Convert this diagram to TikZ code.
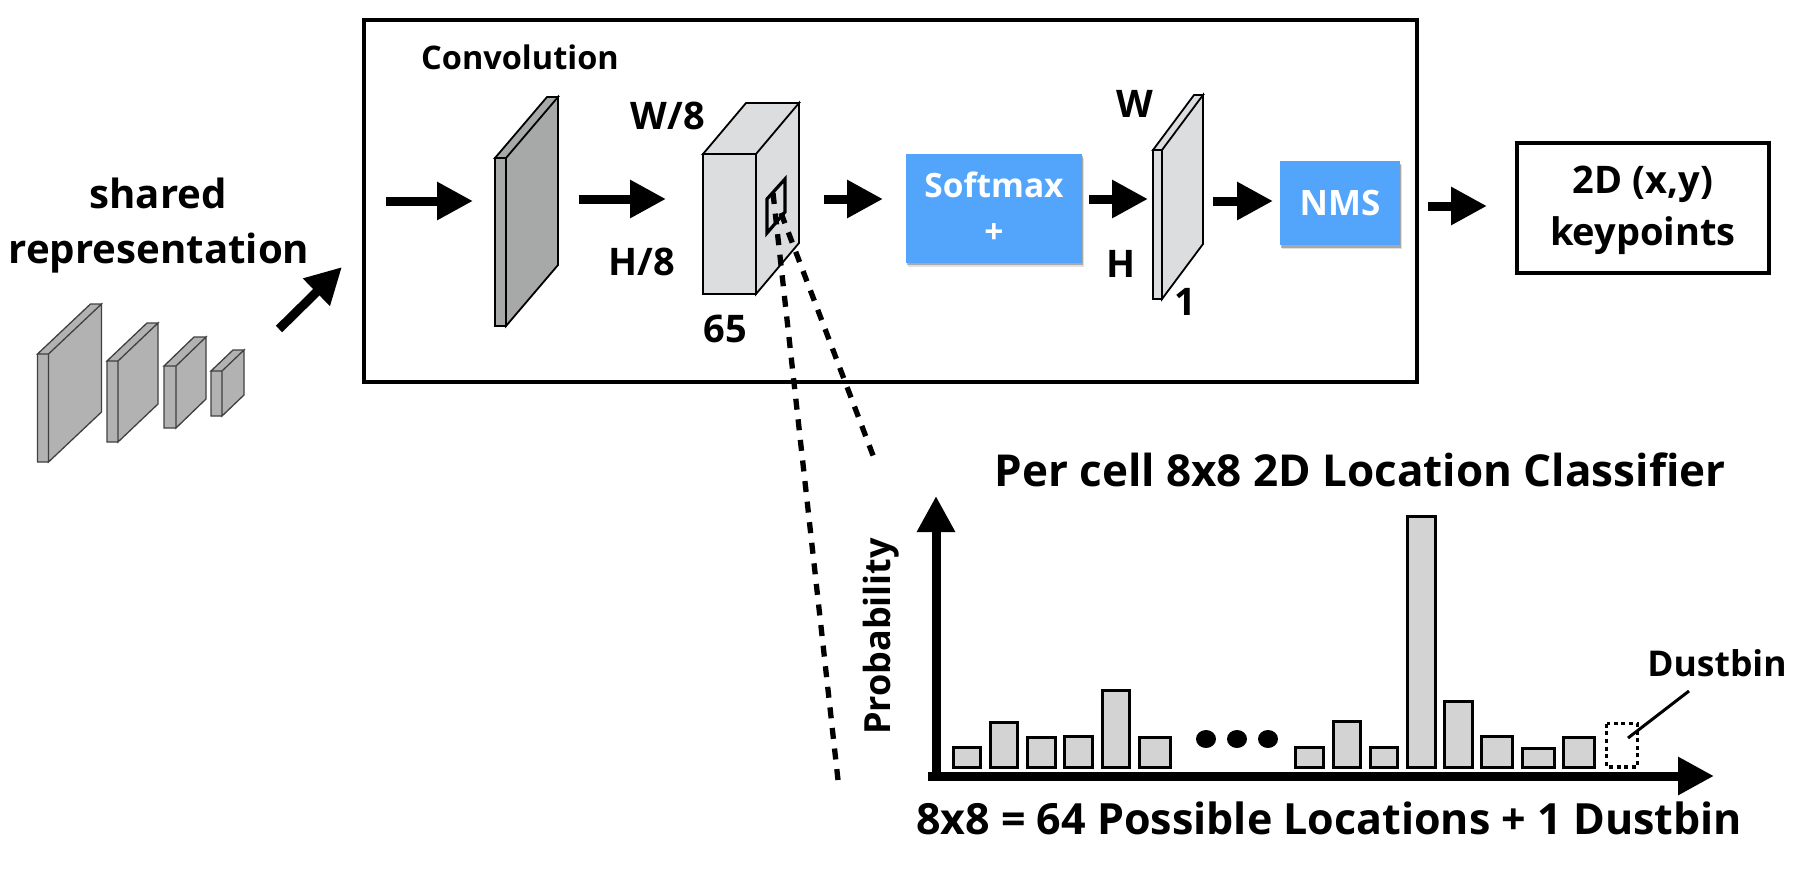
\documentclass[tikz,border=0pt]{standalone}
\usepackage{fontspec}
\setmainfont{Open Sans}
\usetikzlibrary{arrows.meta,shadows,shapes.geometric}
\definecolor{slabdark}{HTML}{A6A9A7}
\definecolor{slabgrey}{HTML}{B2B2B2}
\definecolor{slablight}{HTML}{DCDDDF}
\definecolor{barfill}{HTML}{D3D3D3}
\definecolor{softblue}{HTML}{53A5FB}
\newcommand{\fs}[2]{\bfseries\fontsize{#1}{#2}\selectfont}
% x0 x1 ytop ybot dx dy fill linewidth draw
\newcommand{\slabshape}[9]{%
  \draw[line width=#8pt,draw=#9,fill=#7,line join=miter]
    (#1,#3) rectangle (#2,#4)
    (#2,#3) -- (#2+#5,#3-#6) -- (#2+#5,#4-#6) -- (#2,#4) -- cycle
    (#1,#3) -- (#1+#5,#3-#6) -- (#2+#5,#3-#6) -- (#2,#3) -- cycle;}
\tikzset{
  x=1pt,y=-1pt,
  fatarrow/.style={line width=9pt,-{Triangle[length=36pt,width=36pt]}},
  frame/.style={draw=black,line width=3.2pt,inner sep=0pt},
  bluebox/.style={fill=softblue,text=white,inner sep=0pt,align=center,
    drop shadow={shadow xshift=2pt,shadow yshift=-4pt,opacity=.12,fill=black},
    drop shadow={shadow xshift=1pt,shadow yshift=-2.5pt,opacity=.25,fill=black}},
  lab/.style={inner sep=0pt,anchor=base,text=black},
  cuedash/.style={line width=5.3pt,dash pattern=on 11pt off 9.7pt},
  barshape/.style={draw=black,line width=3.3pt,fill=barfill},
}
\begin{document}
\begin{tikzpicture}
\useasboundingbox (0,0) rectangle (1794,884);
% frames
\node[frame,minimum width=1053pt,minimum height=362pt] (conv) at (890.5,201) {};
\node[frame,minimum width=252pt,minimum height=130pt] (kp) at (1643,208) {};
\node[lab,font=\fs{38}{44}] (kp1) at (1643,193) {2D (x,y)};
\node[lab,font=\fs{38}{44}] (kp2) at (1643,245) {keypoints};
% left stack
\slabshape{37.5}{48.5}{354}{462}{53}{50}{slabgrey}{1.3}{black!75}
\slabshape{107}{118}{361}{442}{40}{38}{slabgrey}{1.3}{black!75}
\slabshape{164}{176}{366}{428}{30}{29}{slabgrey}{1.3}{black!75}
\slabshape{211}{222}{371}{416}{22}{21}{slabgrey}{1.3}{black!75}
% conv slab, cuboid, output slab
\slabshape{495}{506}{158}{326}{52}{61}{slabdark}{1.8}{black}
\slabshape{703}{756}{154}{294}{43}{51}{slablight}{1.8}{black}
\slabshape{1153}{1162}{150}{299}{41}{55}{slablight}{1.8}{black}
% blue boxes
\node[bluebox,minimum width=176pt,minimum height=109pt,font=\fs{33.5}{46}] (soft) at (994,208) {Softmax\\+};
\node[bluebox,minimum width=120pt,minimum height=84pt,font=\fs{35}{40}] (nms) at (1340,203) {NMS};
% text
\node[lab,font=\fs{40.2}{55}] (shared) at (158,208) {shared};
\node[lab,font=\fs{40.2}{55}] (repr) at (159,263) {representation};
\node[lab,font=\fs{32.5}{36}] (convt) at (520,69) {Convolution};
\node[lab,font=\fs{38}{40}] (w8) at (668,129) {W/8};
\node[lab,font=\fs{38}{40}] (h8) at (642,275) {H/8};
\node[lab,font=\fs{38}{40}] (n65) at (725,342) {65};
\node[lab,font=\fs{38}{40}] (wl) at (1135,117) {W};
\node[lab,font=\fs{38}{40}] (hl) at (1121,277) {H};
\node[lab,font=\fs{38}{40}] (onel) at (1185,315) {1};
\node[lab,font=\fs{44}{44}] (title) at (1360,486) {Per cell 8x8 2D Location Classifier};
\node[lab,font=\fs{43}{44}] (xlab) at (1329,834) {8x8 = 64 Possible Locations + 1 Dustbin};
\node[lab,font=\fs{36}{38},rotate=90] (ylab) at (890,636.5) {Probability};
\node[lab,font=\fs{35.5}{36}] (dustl) at (1717,676) {Dustbin};
% arrows
\coordinate (a0s) at (279,329); \coordinate (a0e) at (342,267);
\coordinate (a1s) at (386,201); \coordinate (a1e) at (473,201);
\coordinate (a2s) at (579,199); \coordinate (a2e) at (666,199);
\coordinate (a3s) at (824,199); \coordinate (a3e) at (883,199);
\coordinate (a4s) at (1089,199); \coordinate (a4e) at (1148,199);
\coordinate (a5s) at (1213,201); \coordinate (a5e) at (1273,201);
\coordinate (a6s) at (1428,206); \coordinate (a6e) at (1487,206);
\foreach \n in {0,...,6} \draw[fatarrow] (a\n s) -- (a\n e);
% cell on the cuboid
\draw[line width=3.2pt,line join=miter] (767,199) -- (785,179) -- (785,212) -- (767,233) -- cycle;
\coordinate (c1) at (773,193); \coordinate (c1e) at (838,780);
\coordinate (c2) at (781,213); \coordinate (c2e) at (874,458);
\draw[cuedash] (c1) -- (c1e);
\draw[cuedash] (c2) -- (c2e);
% bars
\foreach \l/\r/\t in {952/982/746,989/1019/721,1026/1057/736,1063/1094/735,1101/1131/689,1138/1172/736,
  1294/1325/746,1332/1362/720,1369/1399/746,1406/1437/515,1443/1474/700,1480/1514/735,1521/1556/747,1562/1596/736}
  \draw[barshape] (\l+1.65,\t+1.65) rectangle (\r-1.65,767.5);
\draw[line width=3.4pt,dash pattern=on 4pt off 3.6pt] (1606.7,723.7) rectangle (1637.3,767) ;
\foreach \x in {1206,1237,1268} \fill (\x,739) ellipse [x radius=10pt,y radius=9pt];
% axes
\coordinate (org) at (936,780); \coordinate (ytip) at (936,496);
\coordinate (xorg) at (928,776); \coordinate (xtip) at (1714,776);
\draw[fatarrow] (org) -- (ytip);
\draw[fatarrow] (xorg) -- (xtip);
\coordinate (ds) at (1628,738); \coordinate (de) at (1689,691);
\draw[line width=3pt] (ds) -- (de);
\end{tikzpicture}
\end{document}
